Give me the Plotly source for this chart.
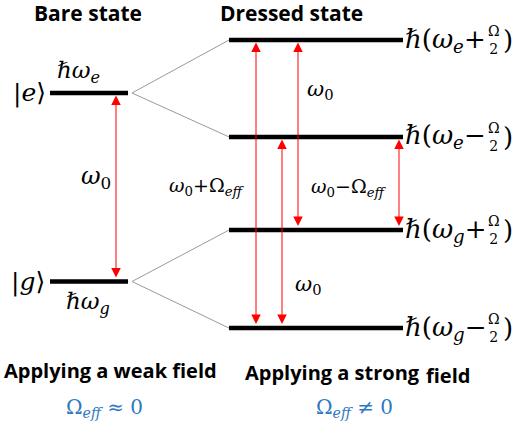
import plotly.graph_objects as go

# ---- data: energies in units of the bare splitting (ground = 0, excited = 1)
bare_labels = ["g", "e"]
bare_energy = [0.0, 1.0]

dressed_labels = ["g-", "g+", "e-", "e+"]
dressed_energy = [-0.247, 0.273, 0.767, 1.281]

# dressed transitions: (lower level, upper level, label)
transitions = [
    ("g-", "e+", "ω0+Ωeff"),
    ("g-", "e-", "ω0"),
    ("g+", "e+", "ω0"),
    ("g+", "e-", "ω0−Ωeff"),
]

W, H = 512, 428
Y0_PX, PX_PER_UNIT = 281.5, 188.5          # vertical scale of the diagram
y_top = Y0_PX / PX_PER_UNIT
y_bot = (Y0_PX - H) / PX_PER_UNIT

E = dict(zip(bare_labels, bare_energy))
D = dict(zip(dressed_labels, dressed_energy))

# horizontal layout (axis units = pixels)
BARE_X = (50, 128)
DRESS_X = (229, 403)
BARE_ARROW_X = 116
TRANS_X = {("g-", "e+"): 256, ("g-", "e-"): 282, ("g+", "e+"): 298, ("g+", "e-"): 399}

MATH = "DejaVu Serif"
SANS = "Open Sans"
RED = "#ff0000"
BLUE = "#2E78C2"

fig = go.Figure()

# fan lines from bare to dressed levels
for b, pair in (("e", ("e-", "e+")), ("g", ("g-", "g+"))):
    for d in pair:
        fig.add_trace(go.Scatter(
            x=[BARE_X[1] + 4, DRESS_X[0]], y=[E[b], D[d]], mode="lines",
            line=dict(color="#9a9a9a", width=1), hoverinfo="skip", showlegend=False))

# bare levels
for lab in bare_labels:
    fig.add_trace(go.Scatter(
        x=list(BARE_X), y=[E[lab], E[lab]], mode="lines",
        line=dict(color="black", width=4.5), hoverinfo="skip", showlegend=False))

# dressed levels
for lab in dressed_labels:
    fig.add_trace(go.Scatter(
        x=list(DRESS_X), y=[D[lab], D[lab]], mode="lines",
        line=dict(color="black", width=4.5), hoverinfo="skip", showlegend=False))

ann = []


def arrow(x, y_lo, y_hi):
    ann.append(dict(
        x=x, y=y_hi, ax=x, ay=y_lo, xref="x", yref="y", axref="x", ayref="y",
        text="", showarrow=True, arrowhead=2, startarrowhead=2,
        arrowside="end+start", arrowsize=1.9, startarrowsize=1.9,
        arrowwidth=1, arrowcolor=RED, standoff=2.5, startstandoff=2.5))


arrow(BARE_ARROW_X, E["g"], E["e"])
for lo, hi, _ in transitions:
    arrow(TRANS_X[(lo, hi)], D[lo], D[hi])


def text(x, y, s, size, family=MATH, color="black", xanchor="center",
         yshift=0, xref="x", yref="y"):
    ann.append(dict(x=x, y=y, text=s, showarrow=False, xref=xref, yref=yref,
                    xanchor=xanchor, yanchor="middle", yshift=yshift,
                    font=dict(family=family, size=size, color=color)))


def paper_y(px):
    return 1 - px / H


# headers
text(88, paper_y(13), "<b>Bare state</b>", 21, SANS, yref="paper")
text(291, paper_y(13), "<b>Dressed state</b>", 21, SANS, yref="paper")
text(110, paper_y(370), "<b>Applying a weak field</b>", 20, SANS, yref="paper")
text(332, paper_y(372), "<b>Applying a strong</b>", 20, SANS, yref="paper")
text(448, paper_y(375), "<b>field</b>", 20, SANS, yref="paper")
text(104, paper_y(408), "Ω<sub><i>eff</i></sub> ≈ 0", 20, MATH, BLUE, yref="paper")
text(354, paper_y(408), "Ω<sub><i>eff</i></sub> ≠ 0", 20, MATH, BLUE, yref="paper")

# bare level labels
text(29, E["e"], "|<i>e</i>⟩", 25)
text(28, E["g"], "|<i>g</i>⟩", 25)
text(78, E["e"], "<i>ℏω</i><sub><i>e</i></sub>", 23, yshift=21)
text(88, E["g"], "<i>ℏω</i><sub><i>g</i></sub>", 23, yshift=-21)
text(96, (E["g"] + E["e"]) / 2, "<i>ω</i><sub>0</sub>", 24, yshift=10)

# transition labels
label_pos = {("g-", "e+"): (207, 186), ("g+", "e+"): (320, 90),
             ("g+", "e-"): (349, 187), ("g-", "e-"): (308, 285)}
for lo, hi, lab in transitions:
    rest = lab[2:]
    s = "<i>ω</i><sub>0</sub>"
    if rest:
        s += rest[0] + "Ω<sub><i>eff</i></sub>"
    x, ypx = label_pos[(lo, hi)]
    text(x, paper_y(ypx), s, 19 if rest else 21, yref="paper")

# dressed level labels:  ħ(ω_x ± Ω/2)
for lab in dressed_labels:
    state, sign = lab[0], "+" if lab[1] == "+" else "−"
    y = D[lab]
    text(403, y, f"<i>ℏ</i>(<i>ω</i><sub><i>{state}</i></sub>{sign}", 26,
         xanchor="left")
    text(494, y, "Ω<br>2", 14)
    text(501, y, ")", 26, xanchor="left")

fig.update_layout(
    width=W, height=H, margin=dict(l=0, r=0, t=0, b=0),
    paper_bgcolor="white", plot_bgcolor="white",
    xaxis=dict(range=[0, W], visible=False, fixedrange=True),
    yaxis=dict(range=[y_bot, y_top], visible=False, fixedrange=True),
    annotations=ann, showlegend=False,
)

fig.write_html("out.html", config={"displayModeBar": False})
